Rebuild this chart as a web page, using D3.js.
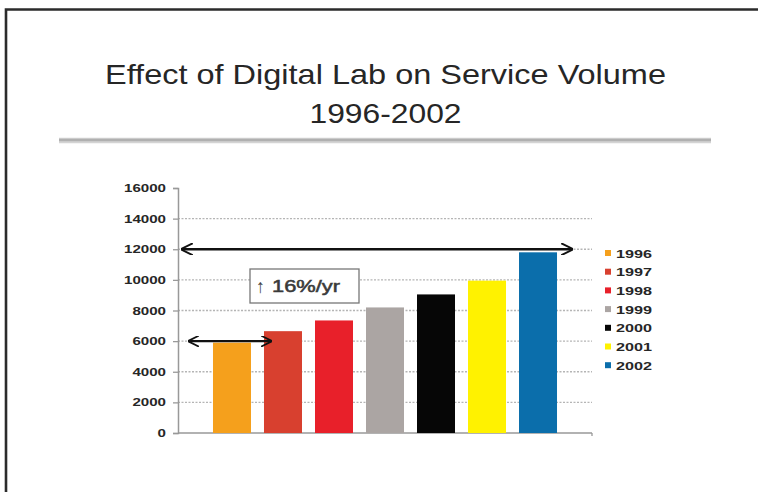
<!DOCTYPE html>
<html><head><meta charset="utf-8">
<script src="https://cdn.jsdelivr.net/npm/d3@7"></script>
<style>body{margin:0;background:#fff}svg{display:block}text{font-family:"Liberation Sans",Arial,Helvetica,sans-serif}</style>
</head><body><svg id="c" width="758" height="492"></svg>
<script>
const years = ["1996","1997","1998","1999","2000","2001","2002"];
const volumes = [5900, 6650, 7350, 8200, 9050, 9950, 11800];
const colors = ["#f5a01c","#d8402f","#e8202a","#aba5a3","#060606","#fff200","#0b6eab"];
const yTicks = [0,2000,4000,6000,8000,10000,12000,14000,16000];
const titleLines = ["Effect of Digital Lab on Service Volume","1996-2002"];
const annotationArrow = "\u2191";
const annotation = "16%/yr";

const svg = d3.select("#c");
// frame
svg.append("path").attr("d","M6,492 V9.5 H758").attr("fill","none").attr("stroke","#2b2b2b").attr("stroke-width",2.6);
// title
const titleLen = [561, 152];
svg.selectAll("text.title").data(titleLines).join("text").attr("class","title")
  .attr("x",385.5).attr("y",(d,i)=>83.5+i*39.5).attr("text-anchor","middle")
  .attr("font-size",28.5).attr("fill","#262626")
  .attr("textLength",(d,i)=>titleLen[i]).attr("lengthAdjust","spacingAndGlyphs").text(d=>d);
// rule
svg.append("line").attr("x1",59).attr("x2",711).attr("y1",140.5).attr("y2",140.5).attr("stroke","#d4d4d4").attr("stroke-width",5.5);
svg.append("line").attr("x1",59).attr("x2",711).attr("y1",140).attr("y2",140).attr("stroke","#b0b0b0").attr("stroke-width",2.5);

const x0 = 178, x1 = 592;
const y = d3.scaleLinear().domain([0,16000]).range([433,188]);
const x = d3.scaleBand().domain(years).range([x0,x1]).paddingInner(0.255).paddingOuter(0.686);

// gridlines
svg.append("g").selectAll("line").data(yTicks.filter(t=>t>0 && t<16000)).join("line")
  .attr("x1",x0).attr("x2",x1).attr("y1",d=>y(d)).attr("y2",d=>y(d))
  .attr("stroke","#b5b5b5").attr("stroke-width",1.3).attr("stroke-dasharray","2,1.5");

// y axis
const yAxis = d3.axisLeft(y).tickValues(yTicks).tickSize(5).tickPadding(7).tickFormat(d3.format("d"));
const gy = svg.append("g").attr("transform",`translate(${x0},0)`).call(yAxis);
gy.select(".domain").attr("stroke","#999").attr("stroke-width",1.5);
gy.selectAll(".tick line").attr("stroke","#999").attr("stroke-width",1.3);
gy.selectAll(".tick text").attr("font-size",11).attr("font-weight","bold").attr("fill","#262626")
  .attr("font-family","Liberation Sans, Arial, sans-serif")
  .attr("textLength",d=>String(d).length*8.4).attr("lengthAdjust","spacingAndGlyphs");

// x axis line
svg.append("line").attr("x1",x0).attr("x2",x1).attr("y1",y(0)).attr("y2",y(0)).attr("stroke","#999").attr("stroke-width",1.5);
svg.append("line").attr("x1",x1).attr("x2",x1).attr("y1",y(0)).attr("y2",y(0)+3).attr("stroke","#999").attr("stroke-width",1.3);

// bars
svg.append("g").selectAll("rect").data(years).join("rect")
  .attr("x",d=>x(d)).attr("width",x.bandwidth())
  .attr("y",(d,i)=>y(volumes[i])).attr("height",(d,i)=>y(0)-y(volumes[i]))
  .attr("fill",(d,i)=>colors[i]);

// arrows
const defs = svg.append("defs");
defs.append("marker").attr("id","ah").attr("viewBox","0 0 10 10").attr("refX",9).attr("refY",5)
  .attr("markerWidth",5).attr("markerHeight",5).attr("orient","auto-start-reverse").attr("markerUnits","strokeWidth")
  .append("path").attr("d","M0,0 L10,5 L0,10").attr("fill","none").attr("stroke","#111").attr("stroke-width",1.6);
svg.append("line").attr("x1",x0+4).attr("x2",x(years[6])+x.bandwidth()+15).attr("y1",y(12000)).attr("y2",y(12000))
  .attr("stroke","#111").attr("stroke-width",2.4).attr("marker-start","url(#ah)").attr("marker-end","url(#ah)");
svg.append("line").attr("x1",x0+11).attr("x2",x(years[1])+7).attr("y1",y(6000)).attr("y2",y(6000))
  .attr("stroke","#111").attr("stroke-width",2.2).attr("marker-start","url(#ah)").attr("marker-end","url(#ah)");

// annotation box
svg.append("rect").attr("x",250).attr("y",269).attr("width",109).attr("height",34)
  .attr("fill","#fff").attr("stroke","#777").attr("stroke-width",1.3);
svg.append("text").attr("x",256).attr("y",293).attr("font-size",19).attr("fill","#444")
  .attr("textLength",9).attr("lengthAdjust","spacingAndGlyphs").text(annotationArrow);
svg.append("text").attr("x",272).attr("y",292).attr("font-size",16).attr("fill","#3a3a3a")
  .attr("stroke","#3a3a3a").attr("stroke-width",0.5)
  .attr("textLength",68).attr("lengthAdjust","spacingAndGlyphs").text(annotation);

// legend
const lg = svg.append("g").selectAll("g").data(years).join("g")
  .attr("transform",(d,i)=>`translate(605,${253+i*18.7})`);
lg.append("rect").attr("x",0).attr("y",-3).attr("width",6).attr("height",6).attr("fill",(d,i)=>colors[i]);
lg.append("text").attr("x",11).attr("y",4.5).attr("font-size",11.5).attr("font-weight","bold")
  .attr("textLength",36).attr("lengthAdjust","spacingAndGlyphs").attr("fill","#262626").text(d=>d);
</script></body></html>
